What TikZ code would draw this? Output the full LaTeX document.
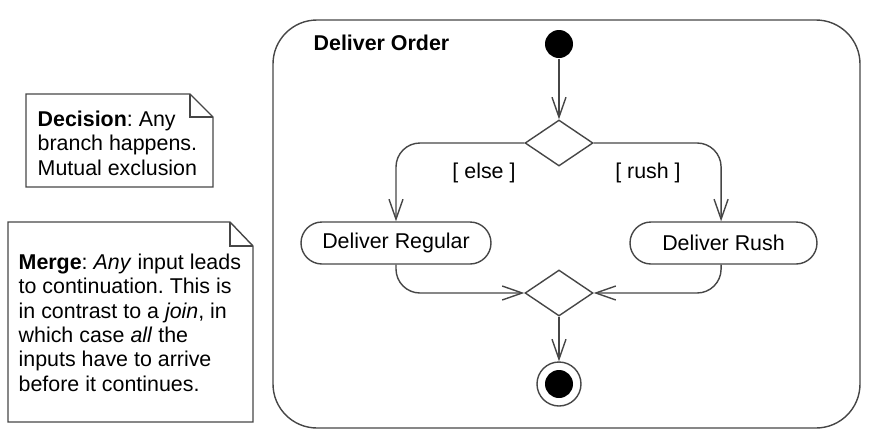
\documentclass[tikz,border=0pt]{standalone}
\usepackage{fontspec}
\setmainfont{Liberation Sans}
\usepackage{xcolor}
\usetikzlibrary{arrows.meta,positioning,shapes.geometric,shapes.misc}
\definecolor{linegray}{RGB}{70,70,70}
\newcommand{\umlfont}{\fontsize{10.7}{12.2}\selectfont}
\frenchspacing

\begin{document}
\begin{tikzpicture}[x=0.5pt,y=-0.5pt,>={Straight Barb[length=10pt,width=7pt]},line width=0.7pt,every node/.style={font=\umlfont}]
\tikzstyle{frame}=[draw=linegray,rounded corners=22pt,minimum width=293.5pt,minimum height=204pt]
\tikzstyle{action}=[draw=linegray,rounded rectangle,minimum height=21pt,inner sep=0pt]
\tikzstyle{choice}=[draw=linegray,diamond,minimum width=34pt,minimum height=23pt,inner sep=0pt]
\tikzstyle{startdot}=[circle,fill=black,minimum size=14pt,inner sep=0pt]
\tikzstyle{enddot}=[circle,draw=linegray,minimum size=22pt,inner sep=0pt]
\tikzstyle{flow}=[->,draw=linegray,rounded corners=12pt]
\tikzstyle{notetext}=[align=left,anchor=north west,inner sep=0pt]
\useasboundingbox (0,0) rectangle (875,440);
% activity frame
\node[frame] (act) at (566.5,224) {};
\node[anchor=west,inner sep=0pt,font=\umlfont\bfseries] (title) at (313,43) {Deliver Order};
% nodes
\node[startdot] (init) at (559,44) {};
\node[choice] (dec) at (559,143) {};
\node[action,minimum width=95pt] (reg) at (396,243) {Deliver Regular};
\node[action,minimum width=93.5pt] (rush) at (723.5,243) {Deliver Rush};
\node[choice] (mrg) at (559,293) {};
\node[enddot] (fin) at (559,384) {};
\fill (fin) circle (7pt);
% guards
\node (else) at (484,173) {[ else ]};
\node (rushg) at (648,173) {[ rush ]};
% flows
\draw[flow] (init) -- (dec.north);
\draw[flow] (dec.west) -| (reg.north);
\draw[flow] (dec.east) -| ([xshift=-1.2pt]rush.north);
\draw[flow] (reg.south) |- (mrg.west);
\draw[flow] ([xshift=-1.2pt]rush.south) |- (mrg.east);
\draw[flow] (mrg.south) -- (fin.north);
% notes
\draw[linegray] (26,94) -- (190,94) -- (213,117) -- (213,187) -- (26,187) -- cycle;
\draw[linegray] (190,94) -- (190,117) -- (213,117);
\node[notetext] (decnote) at (37,110) {\textbf{Decision}: Any\\branch happens.\\Mutual exclusion};
\draw[linegray] (8,222) -- (230,222) -- (253,246) -- (253,422) -- (8,422) -- cycle;
\draw[linegray] (230,222) -- (230,246) -- (253,246);
\node[notetext] (mrgnote) at (18,253) {\textbf{Merge}: \textit{Any} input leads\\to continuation. This is\\in contrast to a \textit{join}, in\\which case \textit{all} the\\inputs have to arrive\\before it continues.};
\end{tikzpicture}
\end{document}
